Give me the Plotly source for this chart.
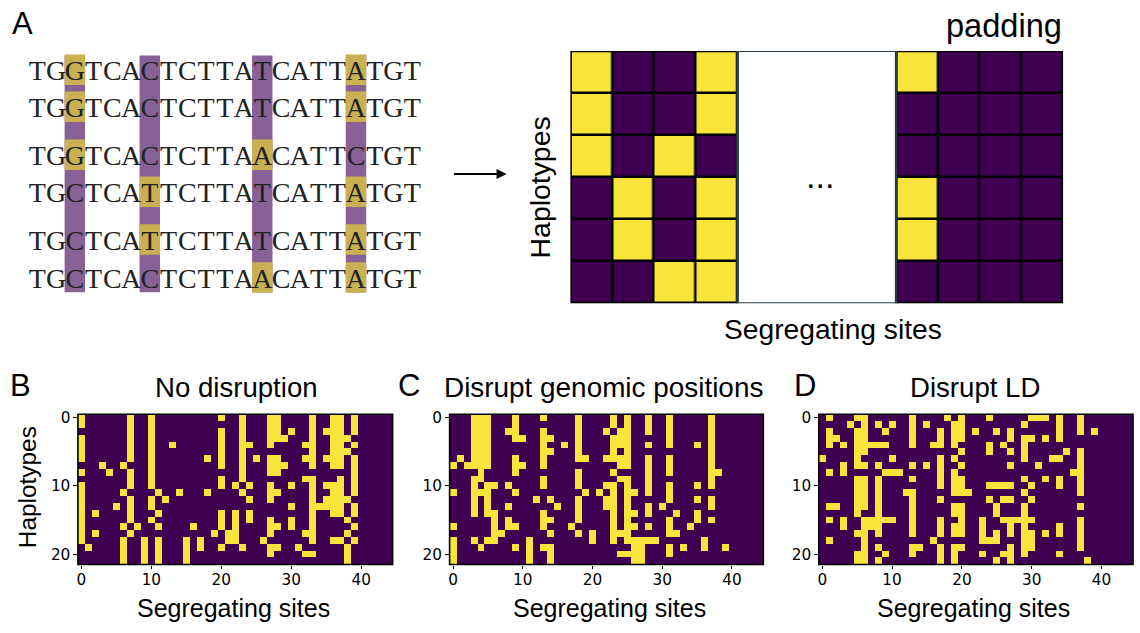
import plotly.graph_objects as go

W, H = 1140, 633

# Panel A: aligned sequences and the alleles shown in gold at each variable site
SEQUENCES = [
    "TGGTCACTCTTATCATTATGT",
    "TGGTCACTCTTATCATTATGT",
    "TGGTCACTCTTAACATTCTGT",
    "TGCTCATTCTTATCATTATGT",
    "TGCTCATTCTTATCATTATGT",
    "TGCTCACTCTTAACATTATGT",
]
VARIABLE_SITES = [2, 6, 12, 17]
GOLD_ALLELES = ["G", "T", "A", "A"]

# Panel A: haplotype matrix blocks
LEFT_BLOCK = [
    [1, 0, 0, 1],
    [1, 0, 0, 1],
    [1, 0, 1, 0],
    [0, 1, 0, 1],
    [0, 1, 0, 1],
    [0, 0, 1, 1],
]
RIGHT_BLOCK = [
    [1, 0, 0, 0],
    [0, 0, 0, 0],
    [0, 0, 0, 0],
    [1, 0, 0, 0],
    [1, 0, 0, 0],
    [0, 0, 0, 0],
]

# Panels B, C, D: rows holding a derived allele, per site (column)
N_ROWS, N_COLS = 22, 45
SITES_B = {
    0: "0-1 3-6 8 10-18", 1: "19", 2: "14 17", 3: "7", 4: "8", 5: "13",
    6: "7 11 16 18-21", 7: "0-6 8-10 12-15 17", 8: "16", 9: "18-21",
    10: "0-10 12-13 15", 11: "11 14 16 18-21", 12: "12", 13: "4", 14: "11",
    15: "18-21", 16: "16", 17: "18-19", 18: "6 11", 19: "17",
    20: "0 2-7 9-10 14-16 19", 21: "17-18", 22: "10 14-18",
    23: "0-9 11 19", 24: "4 10 12 14-15", 25: "6", 26: "18",
    27: "0-4 6-8 10-12 15-17 19-20", 28: "0-3 6-8 11 16 19", 29: "3 7",
    30: "2 10 13 15-16", 31: "19", 32: "4 6 9 17 20",
    33: "0-7 9-18 20", 34: "13", 35: "2 6 10 12-13", 36: "0-7 10-14 18",
    37: "0-7 9-14 18", 38: "3 5 12 15 17 19-21", 39: "0-2 4 6-11 13-14 16 18",
}
SITES_C = {
    0: "7 11 16 18-21", 1: "6", 2: "7", 3: "0-7 9-14 18", 4: "0-9 11 19",
    5: "0-7 10-14 18", 6: "10 14-18", 7: "17", 8: "2 10 13 15-16",
    9: "0-3 6-8 11 16 19", 10: "3 7", 11: "18-21", 12: "12",
    13: "0 2-7 9-10 14-16 19", 14: "3 5 12 15 17 19-21", 15: "13", 16: "4",
    17: "16", 18: "0-6 8-10 12-15 17", 19: "6 11", 20: "17-18", 21: "11",
    22: "2 6 10 12-13", 23: "0-1 3-6 8 10-18", 24: "2-4 6-7 9 17 20",
    25: "0-7 9-18 20", 26: "11 14 16 18-21", 27: "18-21",
    28: "0-2 4 6-11 13-14 16 18", 29: "18", 30: "13",
    31: "0-4 6-8 10-12 15-17 19-20", 32: "14 17", 33: "19", 34: "16",
    35: "4 10 12 14-15", 36: "18-19", 37: "0-10 12-13 15", 38: "8", 39: "19",
}
SITES_D = {
    0: "6", 1: "0 2-4 8 13 15 18", 2: "3 13", 3: "4 7-8 15-16", 4: "1",
    5: "0 2-7 9-14 17 20-21", 6: "0-5 7 9-13 15-21", 7: "4 15-16",
    8: "1 4 7 9-17 19 21", 9: "2 4 8 15 20", 10: "1 6 8 15", 11: "8",
    12: "11", 13: "0-4 7 9 11-17 19-20", 14: "19", 15: "1 7", 16: "4 18",
    17: "2-4 6-10 12 15-17 19-21", 18: "0", 19: "1-4 6 8-11 13-14 16-17 19-21",
    20: "0-3 5 7 9-11 13-17 19", 21: "11", 22: "2", 23: "15-18 20",
    24: "0 4-5 10 12 18", 25: "2 10 13-14 17-18 21", 26: "4 10 12 15 20",
    27: "2-3 5 7 10 12 15-17 19-21", 28: "15", 29: "1 3-6 9 11 13-20",
    30: "0 3 10 12 15 17-19", 31: "0 7", 32: "0 3 9 17", 33: "6",
    34: "0-3 6 9-10 16-17 20", 35: "5", 36: "8", 37: "0-2 5-11 13 15-19",
    38: "21", 39: "2",
}

X_TICKS = [0, 10, 20, 30, 40]
Y_TICKS = [0, 10, 20]
TITLES = ["No disruption", "Disrupt genomic positions", "Disrupt LD"]
PANEL_LETTERS = ["A", "B", "C", "D"]
X_LABEL = "Segregating sites"
Y_LABEL = "Haplotypes"

# ---- layout constants (pixels on the 1140x633 page)
DARK, LIGHT = "#3f0052", "#f8e53c"
PURPLE, GOLD = "#886197", "#c9b153"
SANS, MPL = "Liberation Sans", "DejaVu Sans"
SCALE = [[0, DARK], [1, LIGHT]]
ROW_Y = [70, 107, 155, 192, 240, 278]
TEXT_SHIFT = 2.5
CHAR_W, SEQ_X0 = 18.76, 27
PANELS = [(77, 392), (449, 763), (818.5, 1133)]
PANEL_TOP, PANEL_BOT = 412.5, 564


def fx(px):
    return px / W


def fy_raw(py):
    return 1 - py / H


def fy(py):
    return fy_raw((py - 4.5) / 0.9927)


def expand(sites):
    z = [[0] * N_COLS for _ in range(N_ROWS)]
    for col, spec in sites.items():
        for part in spec.split():
            a, _, b = part.partition("-")
            for r in range(int(a), int(b or a) + 1):
                z[r][col] = 1
    return z


fig = go.Figure()
hidden = dict(visible=False, fixedrange=True)

# --- sequence alignment
x_a = dict(domain=[0, fx(450)], range=[-SEQ_X0 / CHAR_W, (450 - SEQ_X0) / CHAR_W], **hidden)
y_a = dict(domain=[fy(320), fy(20)], range=[320, 20], **hidden)
fig.update_layout(xaxis=x_a, yaxis=y_a)
fig.add_bar(x=[s + 0.5 for s in VARIABLE_SITES], y=[ROW_Y[-1] + 14 - (ROW_Y[0] - 15)] * 4,
            base=ROW_Y[0] - 15, width=1.09, marker=dict(color=PURPLE, line_width=0),
            xaxis="x", yaxis="y", hoverinfo="skip", showlegend=False)
for site, allele in zip(VARIABLE_SITES, GOLD_ALLELES):
    rows = [r for r, seq in enumerate(SEQUENCES) if seq[site] == allele]
    fig.add_bar(x=[site + 0.5] * len(rows), y=[30.5] * len(rows),
                base=[ROW_Y[r] - 16 for r in rows], width=1.09,
                marker=dict(color=GOLD, line_width=0), xaxis="x", yaxis="y",
                hoverinfo="skip", showlegend=False)
for row_y, seq in zip(ROW_Y, SEQUENCES):
    fig.add_scatter(x=[i + 0.5 for i in range(len(seq))], y=[row_y + TEXT_SHIFT] * len(seq),
                    text=list(seq), mode="text", textposition="middle center",
                    textfont=dict(family="Liberation Serif", size=28, color="#222222"),
                    xaxis="x", yaxis="y", hoverinfo="skip", showlegend=False)

# --- padded matrix
CELL_W, GAP_W = 41.75, 159
gap = GAP_W / CELL_W
edges_l = list(range(5))
edges_r = [4 + gap + i for i in range(5)]
fig.update_layout(
    xaxis2=dict(domain=[fx(570), fx(1063)], range=[0, 8 + gap], anchor="y2", **hidden),
    yaxis2=dict(domain=[fy(303), fy(50.5)], range=[6, 0], anchor="x2", **hidden),
)
shapes = []
for e in (edges_l, edges_r):
    shapes.append(dict(type="rect", xref="x2", yref="y2", x0=e[0], x1=e[-1], y0=0, y1=6,
                       fillcolor="black", line_width=0, layer="below"))
    shapes.append(dict(type="rect", xref="x2", yref="y2", x0=e[0], x1=e[-1], y0=0, y1=6,
                       line=dict(color="black", width=2.6), layer="above"))
shapes.append(dict(type="rect", xref="x2", yref="y2", x0=4, x1=4 + gap, y0=0, y1=6,
                   line=dict(color="#2c3c48", width=2.2), layer="above"))
for e, block in ((edges_l, LEFT_BLOCK), (edges_r, RIGHT_BLOCK)):
    fig.add_heatmap(z=block, x=e, y=list(range(7)), colorscale=SCALE, zmin=0, zmax=1,
                    showscale=False, xgap=2.5, ygap=2.5, xaxis="x2", yaxis="y2", hoverinfo="skip")

# --- bottom panels
for i, ((x0, x1), sites) in enumerate(zip(PANELS, (SITES_B, SITES_C, SITES_D))):
    n = i + 3
    axis_style = dict(showline=False, ticks="outside", ticklen=3.5, tickwidth=1.2, tickcolor="black",
                      showgrid=False, zeroline=False, fixedrange=True,
                      tickfont=dict(family=MPL, size=15.3, color="black"))
    fig.update_layout({
        f"xaxis{n}": dict(domain=[fx(x0), fx(x1)], range=[-0.5, N_COLS - 0.5], anchor=f"y{n}",
                          tickvals=X_TICKS, ticklabelstandoff=-2, **axis_style),
        f"yaxis{n}": dict(domain=[fy_raw(PANEL_BOT), fy_raw(PANEL_TOP)], range=[N_ROWS - 0.5, -0.5],
                          anchor=f"x{n}", tickvals=Y_TICKS, **axis_style),
    })
    fig.add_heatmap(z=expand(sites), colorscale=SCALE, zmin=0, zmax=1, showscale=False,
                    xaxis=f"x{n}", yaxis=f"y{n}", hoverinfo="skip")
    shapes.append(dict(type="rect", xref=f"x{n} domain", yref=f"y{n} domain", x0=0, x1=1, y0=0, y1=1,
                       line=dict(color="black", width=1.6), layer="above"))


def label(text, px, py, size, family=SANS, angle=0):
    return dict(text=text, x=fx(px), y=fy(py), xref="paper", yref="paper", showarrow=False,
                xanchor="center", yanchor="middle", textangle=angle,
                font=dict(family=family, size=size, color="black"))


annotations = [
    label(PANEL_LETTERS[0], 22, 23, 31),
    label(PANEL_LETTERS[1], 20, 385, 31),
    label(PANEL_LETTERS[2], 408, 385, 31),
    label(PANEL_LETTERS[3], 804.5, 385, 31),
    label("padding", 1004, 25, 32.6),
    label(X_LABEL, 833, 329, 28.2),
    label(Y_LABEL, 539, 187.5, 28.4, angle=-90),
    label("...", 820, 176, 34),
    label(TITLES[0], 236, 387, 27.6),
    label(TITLES[1], 603, 387, 27.9),
    label(TITLES[2], 974.5, 387, 27.6),
    label(X_LABEL, 233, 608, 25),
    label(X_LABEL, 609, 608, 25),
    label(X_LABEL, 973, 608, 25),
    label(Y_LABEL, 26, 487, 24.4, angle=-90),
    dict(x=fx(506), y=fy(173.5), ax=-54, ay=0, xref="paper", yref="paper",
         axref="pixel", ayref="pixel", text="", showarrow=True, arrowhead=2, arrowsize=1,
         arrowwidth=2, arrowcolor="black"),
]

fig.update_layout(width=W, height=H, margin=dict(l=0, r=0, t=0, b=0), paper_bgcolor="white",
                  plot_bgcolor="rgba(0,0,0,0)", barmode="overlay", showlegend=False,
                  shapes=shapes, annotations=annotations)
fig.write_html("out.html", config={"displayModeBar": False},
               post_script="document.body.style.margin='0';")
